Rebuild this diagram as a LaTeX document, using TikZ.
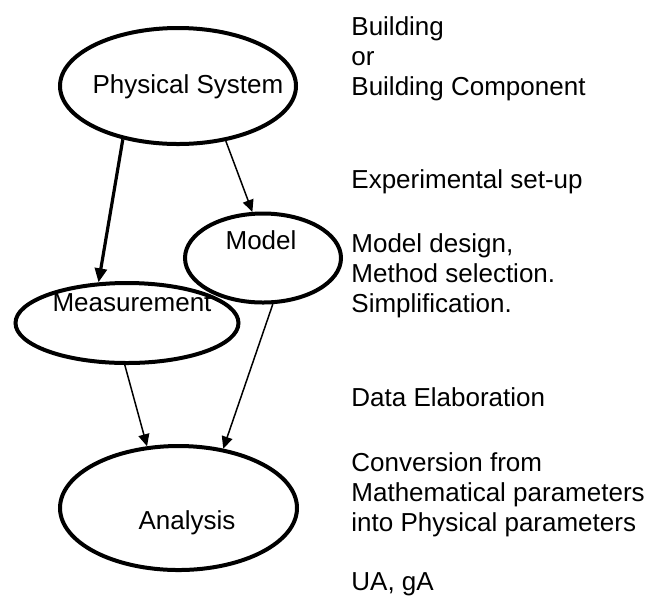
\documentclass[tikz,border=0pt]{standalone}
\usepackage{fontspec}
\setmainfont{Liberation Sans}
\usetikzlibrary{positioning,arrows.meta,shapes.geometric}

\begin{document}
\begin{tikzpicture}[
	x=0.5pt, y=-0.5pt,
	font=\fontsize{13pt}{15pt}\selectfont,
	ar/.style={-{Triangle[length=6pt,width=5.5pt]},line width=0.75pt},
	thickar/.style={-{Triangle[length=7pt,width=6pt]},line width=1.6pt},
	oval/.style={
	  draw,
	  ellipse,
	  line width=2pt,
	  inner sep=0pt
	  },
	lbl/.style={inner sep=0pt, text height=0.72em, text depth=0pt},
	note/.style={inner sep=0pt, align=left, anchor=base west}
	]
		\useasboundingbox (0,0) rectangle (656,596);

		% the four stages
		\node[oval, minimum width=118pt, minimum height=58pt] (phys) at (178,86) {};
		\node[oval, minimum width=78pt, minimum height=44.5pt] (model) at (263,258) {};
		\node[oval, minimum width=111.5pt, minimum height=40pt] (meas) at (127,323) {};
		\node[oval, minimum width=118.5pt, minimum height=62pt] (anal) at (178.5,508) {};

		\node[lbl] (physlbl) at (188,86) {Physical System};
		\node[lbl] (modellbl) at (261,242) {Model};
		\node[lbl] (measlbl) at (132,304) {Measurement};
		\node[lbl] (anallbl) at (187,522) {Analysis};

		% notes on the right (base = last line)
		\node[note] (bldg) at (351,95) {Building\\or\\Building Component};
		\node[note] (setup) at (351,188) {Experimental set-up};
		\node[note] (design) at (351,312) {Model design,\\Method selection.\\Simplification.};
		\node[note] (elab) at (351,406) {Data Elaboration};
		\node[note] (conv) at (351,531) {Conversion from\\Mathematical parameters\\into Physical parameters};
		\node[note] (ua) at (351,590) {UA, gA};

		\draw[thickar]
			(phys.224) -- (meas.125);
		\draw[ar]
			(phys.311) -- (model.103);
		\draw[ar]
			(meas.267) -- (anal.117);
		\draw[ar]
			(model.282) -- (anal.53);
	\end{tikzpicture}
\end{document}
